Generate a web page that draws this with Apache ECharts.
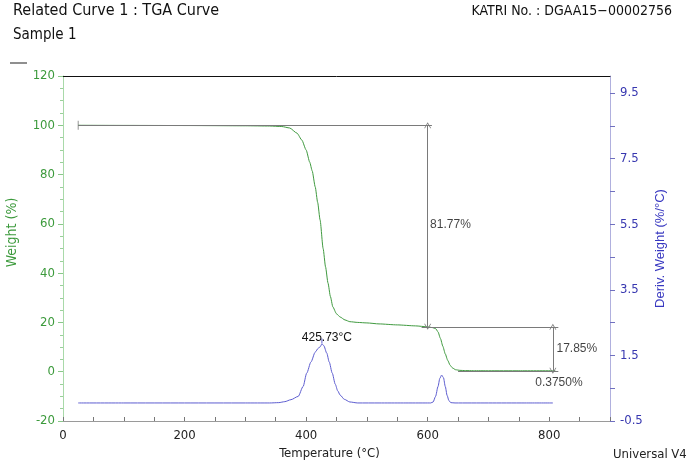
<!DOCTYPE html>
<html>
<head>
<meta charset="utf-8">
<script src="https://cdn.jsdelivr.net/npm/echarts@6/dist/echarts.min.js"></script>
<style>html,body{margin:0;padding:0;background:#fff;}#c{width:688px;height:476px;}</style>
</head>
<body>
<div id="c"></div>
<script>
// ---- data ----
const tgaTemps   = [25, 100, 200, 300, 340, 360, 373, 385, 393, 400, 406, 410, 415, 419, 423, 428, 432, 436, 440, 444, 450, 456, 464, 472, 485, 500, 520, 550, 580, 600, 608, 613, 617, 621, 625, 629, 633, 637, 641, 646, 653, 662, 675, 700, 750, 810];
const tgaWeights = [100, 99.95, 99.9, 99.8, 99.7, 99.5, 98.9, 96.8, 94, 90, 85, 81.5, 75, 68.7, 61.6, 50, 42.5, 36, 30.5, 26.3, 23.5, 22.2, 21, 20.3, 20, 19.8, 19.4, 19, 18.6, 18.2, 17.9, 17.5, 16.2, 13.5, 10.3, 7.2, 4.6, 2.6, 1.5, 0.8, 0.55, 0.45, 0.4, 0.38, 0.375, 0.375];

const dtgTemps  = [25, 100, 200, 300, 340, 355, 365, 375, 387, 395, 401, 408, 415, 420, 423, 426, 429, 434, 438, 443, 448, 452, 456, 463, 472, 485, 520, 560, 600, 605, 609, 613, 617, 620, 623, 626, 629, 632, 635, 638, 645, 700, 760, 806];
const dtgValues = [0.05, 0.05, 0.05, 0.05, 0.05, 0.06, 0.09, 0.15, 0.25, 0.55, 0.96, 1.3, 1.6, 1.72, 1.76, 1.85, 1.8, 1.57, 1.3, 0.96, 0.62, 0.42, 0.29, 0.16, 0.08, 0.05, 0.05, 0.05, 0.05, 0.05, 0.08, 0.25, 0.55, 0.8, 0.9, 0.82, 0.55, 0.28, 0.12, 0.06, 0.05, 0.05, 0.05, 0.05];

const xTickLabels   = [0, 200, 400, 600, 800];
const rightTicks    = [-0.5, 0.5, 1.5, 2.5, 3.5, 4.5, 5.5, 6.5, 7.5, 8.5, 9.5];
const rightLabels   = [-0.5, 1.5, 3.5, 5.5, 7.5, 9.5];

// step annotations
const startTemp  = 25;
const stepLevels = [100, 18.23, 0.375];
const stepTemps  = [600, 806];
const lineEnds   = [607, 815];
const lineStarts = [590, 650];

const noteTexts   = ['81.77%', '17.85%', '0.3750%'];
const noteTemps   = [604, 812, 816];
const noteWeights = [59.5, 9.2, -4.6];
const notePlaces  = ['right', 'right', 'inside'];

const peakText  = '425.73°C';
const peakTemp  = 426;
const peakDeriv = 1.85;

// ---- chart ----
const chart = echarts.init(document.getElementById('c'), null, {renderer: 'canvas'});
const narrow = '"Liberation Sans Narrow", "DejaVu Sans Condensed", sans-serif';
const sans = '"Liberation Sans", Arial, sans-serif';
const chevron = 'path://M0,0 L6,8 L4.6,8 L0,2 L-4.6,8 L-6,8 Z';
const gray = '#7a7a7a';

const zip = (a, b) => a.map((v, i) => [v, b[i]]);

const option = {
  animation: false,
  backgroundColor: '#fff',
  grid: {left: 63, right: 78, top: 76, bottom: 55, containLabel: false, outerBoundsMode: 'none'},
  xAxis: [{
    type: 'value', min: 0, max: 900, interval: 50, position: 'bottom',
    axisLine: {show: true, onZero: false, lineStyle: {color: '#9a9a9a', width: 1}},
    axisTick: {show: true, inside: true, length: 4, lineStyle: {color: '#777'}},
    axisLabel: {customValues: xTickLabels, color: '#222', fontFamily: narrow, fontSize: 13, margin: 8},
    splitLine: {show: false},
    name: 'Temperature (°C)', nameLocation: 'middle', nameGap: 25,
    nameTextStyle: {color: '#222', fontFamily: narrow, fontSize: 13, padding: [0, 14, 0, 0]}
  }, {
    type: 'value', min: 0, max: 900, position: 'top',
    axisLine: {show: true, onZero: false, lineStyle: {color: '#111', width: 1}},
    axisTick: {show: false}, axisLabel: {show: false}, splitLine: {show: false}
  }],
  yAxis: [{
    type: 'value', min: -20, max: 120, interval: 20, position: 'left',
    axisLine: {show: true, onZero: false, lineStyle: {color: '#a9d9a9', width: 1}},
    axisTick: {show: true, length: 5, lineStyle: {color: '#8ac88a'}},
    minorTick: {show: true, splitNumber: 4, length: 3, lineStyle: {color: '#9ad09a'}},
    axisLabel: {color: '#3c9a3c', fontFamily: narrow, fontSize: 13, margin: 8},
    splitLine: {show: false},
    name: 'Weight (%)', nameLocation: 'middle', nameGap: 44, nameRotate: 90,
    nameTextStyle: {color: '#3c9a3c', fontFamily: narrow, fontSize: 14, padding: [0, 0, 0, 32]}
  }, {
    type: 'value', min: -0.5, max: 10.02, position: 'right',
    axisLine: {show: true, onZero: false, lineStyle: {color: '#b0b0de', width: 1}},
    axisTick: {show: true, length: 5, customValues: rightTicks, lineStyle: {color: '#7070c0'}},
    axisLabel: {customValues: rightLabels, color: '#3838b0', fontFamily: narrow, fontSize: 13, margin: 10,
      formatter: v => v.toFixed(1)},
    splitLine: {show: false},
    name: 'Deriv. Weight (%/°C)', nameLocation: 'middle', nameGap: 43, nameRotate: 90,
    nameTextStyle: {color: '#3838c0', fontFamily: sans, fontSize: 13}
  }],
  series: [{
    name: 'Weight', type: 'line', xAxisIndex: 0, yAxisIndex: 0,
    data: zip(tgaTemps, tgaWeights), showSymbol: false, symbol: 'none',
    smooth: 0.2, smoothMonotone: 'x',
    lineStyle: {color: '#3f9a3f', width: 1},
    itemStyle: {color: '#3f9a3f'},
    markLine: {
      silent: true, symbol: ['none', 'none'], symbolSize: [7, 6],
      label: {show: false},
      lineStyle: {color: gray, width: 1, type: 'solid'},
      itemStyle: {color: gray},
      data: [
        [{coord: [startTemp, stepLevels[0]]}, {coord: [lineEnds[0], stepLevels[0]]}],
        [{coord: [stepTemps[0], stepLevels[0]], symbol: chevron, symbolSize: [7, 6]},
         {coord: [stepTemps[0], stepLevels[1]], symbol: chevron, symbolSize: [7, 6]}],
        [{coord: [lineStarts[0], stepLevels[1]]}, {coord: [lineEnds[1], stepLevels[1]]}],
        [{coord: [lineStarts[1], stepLevels[2]]}, {coord: [lineEnds[1], stepLevels[2]]}],
        [{coord: [stepTemps[1], stepLevels[1]], symbol: chevron, symbolSize: [7, 6]},
         {coord: [stepTemps[1], stepLevels[2]], symbol: chevron, symbolSize: [7, 6]}]
      ]
    }
  }, {
    name: 'Deriv', type: 'line', xAxisIndex: 0, yAxisIndex: 1,
    data: zip(dtgTemps, dtgValues), showSymbol: false, symbol: 'none',
    smooth: 0.25, smoothMonotone: 'x',
    lineStyle: {color: '#5c5cd0', width: 1},
    itemStyle: {color: '#5c5cd0'},
    markPoint: {
      silent: true, symbol: 'rect', symbolSize: [1, 5], symbolOffset: [0, -3],
      itemStyle: {color: '#5c5cd0'},
      label: {show: true, position: 'top', distance: 1, offset: [5, 6], formatter: peakText,
        color: '#111', fontFamily: sans, fontSize: 12},
      data: [{coord: [peakTemp, peakDeriv]}]
    }
  }, {
    name: 'start', type: 'scatter', xAxisIndex: 0, yAxisIndex: 0, silent: true,
    symbol: 'rect', symbolSize: [1, 9], itemStyle: {color: gray},
    data: [[startTemp, stepLevels[0]]]
  }, {
    name: 'notes', type: 'scatter', xAxisIndex: 0, yAxisIndex: 0, silent: true,
    symbolSize: 0,
    data: zip(noteTemps, noteWeights).map((p, i) => ({value: p, name: noteTexts[i],
      label: {position: notePlaces[i]}})),
    label: {show: true, formatter: p => p.name, color: '#111', fontFamily: sans, fontSize: 12,
      position: 'right', distance: 0}
  }],
  graphic: [
    {type: 'text', left: 13, top: 3, style: {text: 'Related Curve 1 : TGA Curve', font: '16px ' + narrow, fill: '#111'}},
    {type: 'text', right: 16, top: 4, style: {text: 'KATRI No. : DGAA15\u221200002756', font: '14px ' + narrow, fill: '#111'}},
    {type: 'text', left: 13, top: 28, style: {text: 'Sample 1', font: '15px ' + narrow, fill: '#111'}},
    {type: 'text', left: 613, top: 448, style: {text: 'Universal V4', font: '13px ' + narrow, fill: '#222'}},
    {type: 'line', shape: {x1: 10, y1: 63, x2: 27, y2: 63}, style: {stroke: '#444', lineWidth: 1.2}}
  ]
};
chart.setOption(option);
</script>
</body>
</html>
